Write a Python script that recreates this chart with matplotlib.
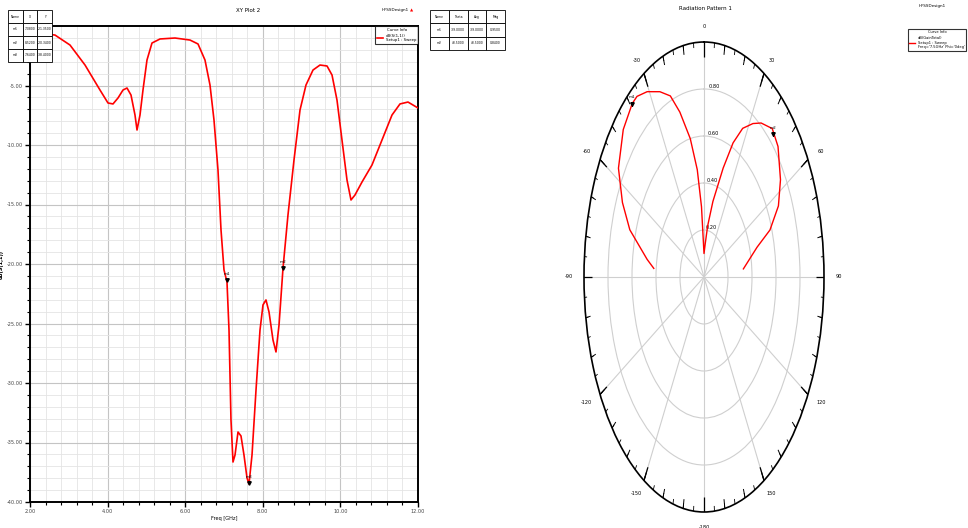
import numpy as np
import matplotlib
matplotlib.use("Agg")
import matplotlib.pyplot as plt
from matplotlib.ticker import MultipleLocator

# ---- S11 sweep (XY Plot 2) ----
freq_ghz = [2.000, 2.644, 3.031, 3.418, 3.804, 4.010, 4.139, 4.268, 4.397, 4.500, 4.603, 4.706,
            4.758, 4.835, 4.912, 5.015, 5.144, 5.351, 5.737, 6.124, 6.330, 6.510, 6.639, 6.742,
            6.845, 6.923, 7.000, 7.077, 7.129, 7.180, 7.232, 7.284, 7.361, 7.438, 7.515, 7.593,
            7.644, 7.722, 7.825, 7.928, 8.005, 8.082, 8.160, 8.263, 8.340, 8.418, 8.521, 8.649,
            8.804, 8.959, 9.113, 9.294, 9.474, 9.655, 9.784, 9.912, 10.041, 10.170, 10.273, 10.376,
            10.557, 10.814, 11.072, 11.330, 11.536, 11.742, 12.000]
s11_db = [-0.50, -0.76, -1.60, -3.28, -5.38, -6.47, -6.55, -6.05, -5.38, -5.21, -5.80, -7.48,
          -8.74, -7.48, -5.38, -2.86, -1.43, -1.09, -1.01, -1.18, -1.51, -2.86, -4.96, -7.90,
          -12.10, -17.14, -20.50, -21.51, -25.55, -33.11, -36.64, -36.05, -34.12, -34.45, -36.05, -37.98,
          -38.49, -36.05, -30.59, -25.55, -23.44, -23.02, -24.03, -26.39, -27.39, -25.13, -20.34, -15.88,
          -11.26, -7.06, -4.96, -3.70, -3.28, -3.36, -4.12, -6.22, -9.58, -12.94, -14.62, -14.20,
          -13.11, -11.68, -9.58, -7.48, -6.55, -6.39, -6.89]
x_ticks = [2, 4, 6, 8, 10, 12]
x_ticklabels = ["2.00", "4.00", "6.00", "8.00", "10.00", "12.00"]
y_ticks = [-40, -35, -30, -25, -20, -15, -10, -5]
y_ticklabels = ["-40.00", "-35.00", "-30.00", "-25.00", "-20.00", "-15.00", "-10.00", "-5.00"]

mk_names = ["m1", "m2", "m3"]
mk_freq = [7.08, 8.52, 7.64]
mk_db = [-21.35, -20.34, -38.40]

# ---- Radiation Pattern 1 ----
theta_deg = [-85, -81, -72, -65, -57, -47, -39, -36, -31, -25, -20, -16, -11, -7, -4, 0,
             4, 8, 13, 19, 23, 27, 32, 36, 42, 48, 57, 64, 70, 74, 84]
pattern = [0.42, 0.48, 0.65, 0.75, 0.85, 0.92, 0.95, 0.95, 0.92, 0.87, 0.82, 0.73, 0.60, 0.46, 0.30, 0.10,
           0.14, 0.22, 0.33, 0.49, 0.62, 0.71, 0.77, 0.81, 0.85, 0.83, 0.76, 0.69, 0.585, 0.46, 0.33]
theta_ticks = [0, 30, 60, 90, 120, 150, 180, 210, 240, 270, 300, 330]
theta_ticklabels = ["0", "30", "60", "90", "120", "150", "-180", "-150", "-120", "-90", "-60", "-30"]
r_ticks = [0.2, 0.4, 0.6, 0.8]
r_ticklabels = ["0.20", "0.40", "0.60", "0.80"]

pmk_names = ["m1", "m2"]
pmk_theta = [-39, 43.5]
pmk_r = [0.95, 0.84]

W, H = 968, 528
fig = plt.figure(figsize=(W / 100, H / 100), dpi=100)
FS = 3.6


def fx(px):
    return px / W


def fy(py):
    return 1 - py / H


# ---------- XY plot ----------
ax = fig.add_axes([fx(30), fy(502), fx(388), 476 / H])
ax.plot(freq_ghz, s11_db, color="red", lw=1.2, zorder=3)
ax.set_xlim(2, 12)
ax.set_ylim(-40, 0)
ax.set_xticks(x_ticks)
ax.set_xticklabels(x_ticklabels)
ax.set_yticks(y_ticks)
ax.set_yticklabels(y_ticklabels)
ax.xaxis.set_minor_locator(MultipleLocator(0.4))
ax.yaxis.set_minor_locator(MultipleLocator(1))
ax.grid(which="major", color="#c4c4c4", lw=0.8)
ax.grid(which="minor", color="#e4e4e4", lw=0.6)
ax.tick_params(which="major", labelsize=FS, length=3.5, width=1.0, colors="black", labelcolor="#444444", pad=1.5)
ax.tick_params(which="minor", length=2, width=0.8)
for s in ax.spines.values():
    s.set_linewidth(1.4)
ax.set_xlabel("Freq [GHz]", fontsize=FS, labelpad=1.5)
ax.set_ylabel("dB(S(1,1))", fontsize=FS, fontweight="bold", labelpad=2)
ax.set_axisbelow(True)

ax.plot(mk_freq, mk_db, "v", color="black", ms=2.5, zorder=4)
for name, f, d in zip(mk_names, mk_freq, mk_db):
    ax.annotate(name, (f, d), xytext=(0, 3), textcoords="offset points",
                fontsize=3, ha="center", va="bottom")

leg = ax.legend(["dB(S(1,1))\nSetup1 : Sweep"], loc="upper right", title="Curve Info",
                fontsize=2.8, title_fontsize=2.8, frameon=True, fancybox=False,
                borderaxespad=0, handlelength=1.5, borderpad=0.4)
leg.get_frame().set_edgecolor("black")
leg.get_frame().set_linewidth(0.8)

fig.text(fx(248), fy(10), "XY Plot 2", fontsize=4, ha="center", va="center")
fig.text(fx(395), fy(10), "HFSSDesign1", fontsize=3, ha="center", va="center")
fig.text(fx(412), fy(10), "\u25b2", fontsize=3, color="red", ha="center", va="center")

# marker tables
t1 = fig.add_axes([fx(8), fy(62), fx(44), 52 / H])
t1.axis("off")
rows1 = [["Name", "X", "Y"]] + [[n, f"{f:.4f}", f"{d:.4f}"] for n, f, d in zip(mk_names, mk_freq, mk_db)]
tab1 = t1.table(cellText=rows1, bbox=[0, 0, 1, 1], cellLoc="center")
tab1.auto_set_font_size(False)
tab1.set_fontsize(2.2)
for c in tab1.get_celld().values():
    c.set_linewidth(0.6)

t2 = fig.add_axes([fx(430), fy(50), fx(75), 40 / H])
t2.axis("off")
rows2 = [["Name", "Theta", "Ang", "Mag"]] + [[n, f"{t:.4f}", f"{t:.4f}", f"{r:.4f}"]
                                             for n, t, r in zip(pmk_names, pmk_theta, pmk_r)]
tab2 = t2.table(cellText=rows2, bbox=[0, 0, 1, 1], cellLoc="center")
tab2.auto_set_font_size(False)
tab2.set_fontsize(2.2)
for c in tab2.get_celld().values():
    c.set_linewidth(0.6)

# ---------- polar plot ----------
pax = fig.add_axes([fx(584), fy(512), fx(240), 470 / H], projection="polar")
pax.set_aspect("auto")
pax.set_theta_zero_location("N")
pax.set_theta_direction(-1)
pax.plot(np.deg2rad(theta_deg), pattern, color="red", lw=1.0, zorder=3)
pax.plot(np.deg2rad(pmk_theta), pmk_r, "v", color="black", ms=2.5, zorder=4)
for name, t, r in zip(pmk_names, pmk_theta, pmk_r):
    pax.annotate(name, (np.deg2rad(t), r), xytext=(0, 3), textcoords="offset points",
                 fontsize=3, ha="center", va="bottom")
pax.set_xticks(np.deg2rad(theta_ticks))
pax.set_xticklabels(theta_ticklabels)
pax.set_yticks(r_ticks)
pax.set_yticklabels(r_ticklabels)
pax.set_rlabel_position(3)
pax.tick_params(axis="x", labelsize=FS, pad=0.5)
pax.tick_params(axis="y", labelsize=FS)
pax.grid(color="#cfcfcf", lw=0.8)
pax.spines["polar"].set_linewidth(1.2)

# tick marks along the outer ring (every 5 deg, longer every 10 deg)
tk5 = np.deg2rad(np.arange(0, 360, 5))
tk10 = np.deg2rad(np.arange(0, 360, 10))
pax.vlines(tk5, 0.978, 1.0, color="black", lw=0.6, zorder=5)
pax.vlines(tk10, 0.96, 1.0, color="black", lw=0.7, zorder=5)
pax.vlines(np.deg2rad(theta_ticks), 0.935, 1.0, color="black", lw=0.9, zorder=5)
pax.set_ylim(0, 1)

fig.text(fx(705), fy(8), "Radiation Pattern 1", fontsize=4, ha="center", va="center")
fig.text(fx(932), fy(6), "HFSSDesign1", fontsize=3, ha="center", va="center")
pleg = fig.legend(pax.get_lines()[:1],
                  ["dB(GainTotal)\nSetup1 : Sweep\nFreq='7.5GHz' Phi='0deg'"],
                  loc="upper right", bbox_to_anchor=(1.0, fy(27)), title="Curve Info",
                  fontsize=2.6, title_fontsize=2.6, frameon=True, fancybox=False,
                  handlelength=1.5, borderpad=0.4)
pleg.get_frame().set_edgecolor("black")
pleg.get_frame().set_linewidth(0.8)

fig.savefig("out.png", dpi=100)
